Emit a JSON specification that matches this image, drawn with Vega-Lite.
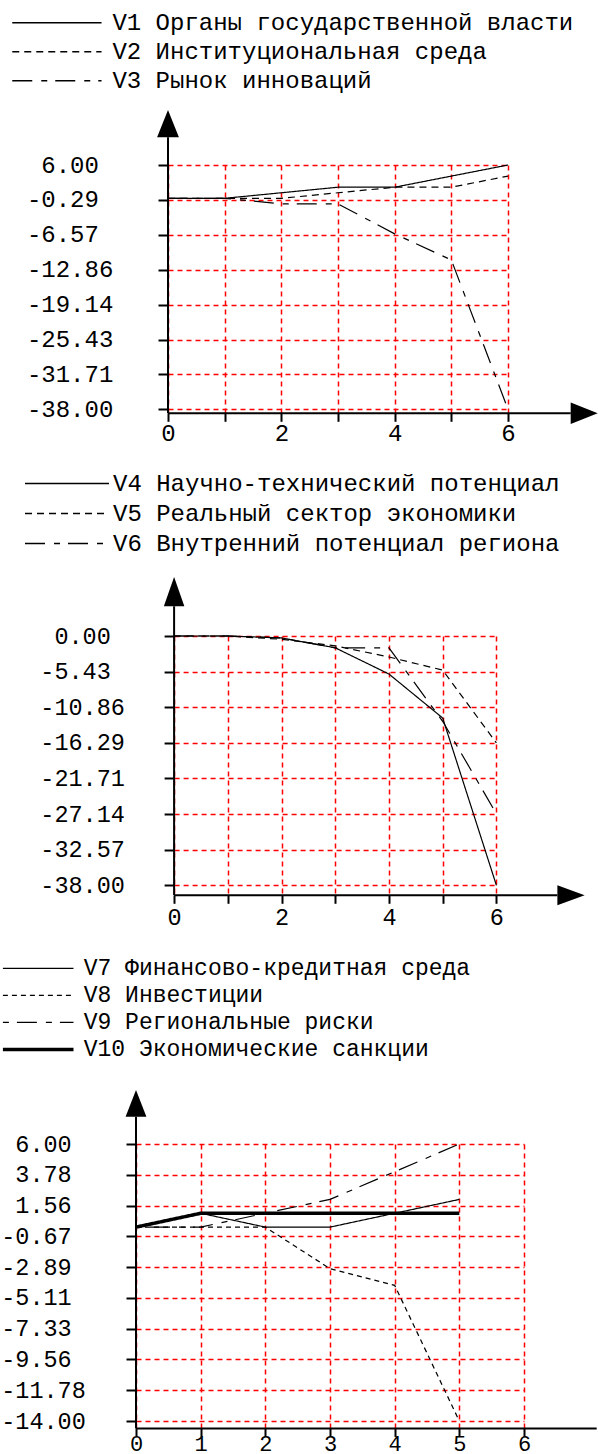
{
  "$schema": "https://vega.github.io/schema/vega-lite/v6.json",
  "usermeta": {"embedOptions": {"actions": false}},
  "background": "white",
  "padding": {"left": 0, "top": 0, "right": 0, "bottom": -6},
  "spacing": 0,
  "resolve": {
    "scale": {"strokeDash": "independent", "strokeWidth": "independent"},
    "legend": {"strokeDash": "independent", "strokeWidth": "independent"}
  },
  "config": {
    "view": {"stroke": null},
    "font": "Liberation Mono",
    "axis": {
      "labelFont": "Liberation Mono", "labelColor": "black", "domain": false,
      "tickColor": "black", "tickWidth": 2, "grid": true, "gridColor": "#ff0000",
      "gridDash": [5, 4], "gridWidth": 1.5, "gridOpacity": 1, "labelFlush": false,
      "labelOverlap": false, "titleFontSize": 1, "titleColor": "white", "titleAngle": 0,
      "titleAlign": "left", "tickCount": 100
    },
    "legend": {"labelFont": "Liberation Mono", "labelColor": "black"}
  },
  "vconcat": [
    {
      "width": 372, "height": 248.3,
      "layer": [
        {
          "data": {"values": [
            {"s": "V1 Органы государственной власти", "x": 0, "y": 0},
            {"s": "V1 Органы государственной власти", "x": 1, "y": 0},
            {"s": "V1 Органы государственной власти", "x": 2, "y": 1},
            {"s": "V1 Органы государственной власти", "x": 3, "y": 2},
            {"s": "V1 Органы государственной власти", "x": 4, "y": 2},
            {"s": "V1 Органы государственной власти", "x": 5, "y": 4},
            {"s": "V1 Органы государственной власти", "x": 6, "y": 6},
            {"s": "V2 Институциональная среда", "x": 0, "y": 0},
            {"s": "V2 Институциональная среда", "x": 1, "y": 0},
            {"s": "V2 Институциональная среда", "x": 2, "y": 0},
            {"s": "V2 Институциональная среда", "x": 3, "y": 1},
            {"s": "V2 Институциональная среда", "x": 4, "y": 2},
            {"s": "V2 Институциональная среда", "x": 5, "y": 2},
            {"s": "V2 Институциональная среда", "x": 6, "y": 4},
            {"s": "V3 Рынок инноваций", "x": 0, "y": 0},
            {"s": "V3 Рынок инноваций", "x": 1, "y": 0},
            {"s": "V3 Рынок инноваций", "x": 2, "y": -1},
            {"s": "V3 Рынок инноваций", "x": 3, "y": -1},
            {"s": "V3 Рынок инноваций", "x": 4, "y": -6.4},
            {"s": "V3 Рынок инноваций", "x": 5, "y": -11.1},
            {"s": "V3 Рынок инноваций", "x": 6, "y": -38}
          ]},
          "mark": {"type": "line", "color": "black", "strokeWidth": 1.2},
          "encoding": {
            "x": {"field": "x", "type": "quantitative",
              "scale": {"domain": [0, 6], "range": [32, 372], "nice": false, "zero": false},
              "axis": {"values": [0, 1, 2, 3, 4, 5, 6], "format": "d", "tickCount": 100, "labelOverlap": false,
                "labelExpr": "datum.value % 2 == 0 ? datum.label : ''",
                "labelBaseline": "middle", "labelPadding": 11.7, "tickSize": 8,
                "labelFontSize": 24, "labelAngle": 0,
                "title": " ", "titleX": 0, "titleY": 41.7, "titleBaseline": "bottom"}},
            "y": {"field": "y", "type": "quantitative",
              "scale": {"domain": [-38.72, 6], "nice": false, "zero": false},
              "axis": {"offset": -32, "values": [6, -0.2857, -6.5714, -12.8571, -19.1429, -25.4286, -31.7143, -38], "tickCount": 100, "labelOverlap": false,
                "labelExpr": "(datum.value >= 0 ? '' : '-') + format(abs(datum.value), '.2f')",
                "labelAlign": "left", "labelBaseline": "middle",
                "labelPadding": {"condition": {"test": "datum.value >= 0", "value": 117.2}, "value": 131.6},
                "tickSize": 10, "labelFontSize": 24,
                "title": " ", "titleX": -167.3, "titleY": -165, "titleBaseline": "top"}},
            "strokeDash": {"field": "s", "type": "nominal",
              "scale": {"domain": ["V1 Органы государственной власти", "V2 Институциональная среда", "V3 Рынок инноваций"],
                "range": [[1, 0], [7, 5], [20, 9, 6, 8]]},
              "legend": {"orient": "none", "legendX": -124.6, "legendY": -156.5, "title": null,
                "symbolType": "stroke", "symbolSize": 7974, "symbolStrokeColor": "black",
                "symbolStrokeWidth": 1.5, "labelFontSize": 24, "labelLimit": 1000,
                "labelOffset": 10, "clipHeight": 28.7, "rowPadding": 0, "padding": 0,
                "labelBaseline": "middle"}}
          }
        },
        {
          "data": {"values": [{}]},
          "mark": {"type": "rule", "color": "black", "strokeWidth": 2},
          "encoding": {"x": {"datum": 0}, "y": {"datum": -38.72}, "y2": {"datum": 10.99}}
        },
        {
          "data": {"values": [{}]},
          "mark": {"type": "rule", "color": "black", "strokeWidth": 2},
          "encoding": {"x": {"datum": 0}, "x2": {"datum": 7.107}, "y": {"datum": -38.72}}
        },
        {
          "data": {"values": [{}]},
          "mark": {"type": "point", "shape": "M0,-1L0.8,1L-0.8,1Z", "filled": true, "color": "black", "opacity": 1, "size": 745},
          "encoding": {"x": {"datum": 0}, "y": {"datum": 13.44}}
        },
        {
          "data": {"values": [{}]},
          "mark": {"type": "point", "shape": "M1,0L-1,-0.8L-1,0.8Z", "filled": true, "color": "black", "opacity": 1, "size": 729},
          "encoding": {"x": {"datum": 7.345}, "y": {"datum": -38.72}}
        }
      ]
    },
    {
      "width": 360.4, "height": 259.3,
      "layer": [
        {
          "data": {"values": [
            {"s": "V4 Научно-технический потенциал", "x": 0, "y": 0},
            {"s": "V4 Научно-технический потенциал", "x": 1, "y": 0},
            {"s": "V4 Научно-технический потенциал", "x": 2, "y": -0.3},
            {"s": "V4 Научно-технический потенциал", "x": 3, "y": -1.8},
            {"s": "V4 Научно-технический потенциал", "x": 4, "y": -5.8},
            {"s": "V4 Научно-технический потенциал", "x": 5, "y": -12.5},
            {"s": "V4 Научно-технический потенциал", "x": 6, "y": -38},
            {"s": "V5 Реальный сектор экономики", "x": 0, "y": 0},
            {"s": "V5 Реальный сектор экономики", "x": 1, "y": 0},
            {"s": "V5 Реальный сектор экономики", "x": 2, "y": -0.5},
            {"s": "V5 Реальный сектор экономики", "x": 3, "y": -1.5},
            {"s": "V5 Реальный сектор экономики", "x": 4, "y": -3.2},
            {"s": "V5 Реальный сектор экономики", "x": 5, "y": -5.2},
            {"s": "V5 Реальный сектор экономики", "x": 6, "y": -16.3},
            {"s": "V6 Внутренний потенциал региона", "x": 0, "y": 0},
            {"s": "V6 Внутренний потенциал региона", "x": 1, "y": 0},
            {"s": "V6 Внутренний потенциал региона", "x": 2, "y": -0.3},
            {"s": "V6 Внутренний потенциал региона", "x": 3, "y": -1.8},
            {"s": "V6 Внутренний потенциал региона", "x": 4, "y": -1.8},
            {"s": "V6 Внутренний потенциал региона", "x": 5, "y": -13},
            {"s": "V6 Внутренний потенциал региона", "x": 6, "y": -27.1}
          ]},
          "mark": {"type": "line", "color": "black", "strokeWidth": 1.2},
          "encoding": {
            "x": {"field": "x", "type": "quantitative",
              "scale": {"domain": [0, 6], "range": [38.1, 360.4], "nice": false, "zero": false},
              "axis": {"values": [0, 1, 2, 3, 4, 5, 6], "format": "d", "tickCount": 100, "labelOverlap": false,
                "labelExpr": "datum.value % 2 == 0 ? datum.label : ''",
                "labelBaseline": "middle", "labelPadding": 13.7, "tickSize": 8,
                "labelFontSize": 23.5, "labelAngle": 0,
                "title": " ", "titleX": 0, "titleY": 40, "titleBaseline": "bottom"}},
            "y": {"field": "y", "type": "quantitative",
              "scale": {"domain": [-39.52, 0], "nice": false, "zero": false},
              "axis": {"offset": -38.1, "values": [0, -5.4286, -10.8571, -16.2857, -21.7143, -27.1429, -32.5714, -38], "tickCount": 100, "labelOverlap": false,
                "labelExpr": "(datum.value >= 0 ? '' : '-') + format(abs(datum.value), '.2f')",
                "labelAlign": "left", "labelBaseline": "middle",
                "labelPadding": {"condition": {"test": "datum.value >= 0", "value": 110.2}, "value": 124.3},
                "tickSize": 10, "labelFontSize": 23.5,
                "title": " ", "titleX": -173.4, "titleY": -180.7, "titleBaseline": "top"}},
            "strokeDash": {"field": "s", "type": "nominal",
              "scale": {"domain": ["V4 Научно-технический потенциал", "V5 Реальный сектор экономики", "V6 Внутренний потенциал региона"],
                "range": [[1, 0], [7, 5], [20, 9, 6, 8]]},
              "legend": {"orient": "none", "legendX": -112, "legendY": -167.4, "title": null,
                "symbolType": "stroke", "symbolSize": 7056, "symbolStrokeColor": "black",
                "symbolStrokeWidth": 1.5, "labelFontSize": 24, "labelLimit": 1000,
                "labelOffset": 3, "clipHeight": 30, "rowPadding": 0, "padding": 0,
                "labelBaseline": "middle"}}
          }
        },
        {
          "data": {"values": [{}]},
          "mark": {"type": "rule", "color": "black", "strokeWidth": 2},
          "encoding": {"x": {"datum": 0}, "y": {"datum": -39.52}, "y2": {"datum": 4.527}}
        },
        {
          "data": {"values": [{}]},
          "mark": {"type": "rule", "color": "black", "strokeWidth": 2},
          "encoding": {"x": {"datum": 0}, "x2": {"datum": 7.135}, "y": {"datum": -39.52}}
        },
        {
          "data": {"values": [{}]},
          "mark": {"type": "point", "shape": "M0,-1L0.7,1L-0.7,1Z", "filled": true, "color": "black", "opacity": 1, "size": 858},
          "encoding": {"x": {"datum": 0}, "y": {"datum": 6.767}}
        },
        {
          "data": {"values": [{}]},
          "mark": {"type": "point", "shape": "M1,0L-1,-0.73L-1,0.73Z", "filled": true, "color": "black", "opacity": 1, "size": 745},
          "encoding": {"x": {"datum": 7.389}, "y": {"datum": -39.52}}
        }
      ]
    },
    {
      "width": 388, "height": 284.4,
      "layer": [
        {
          "data": {"values": [
            {"s": "V7 Финансово-кредитная среда", "x": 0, "y": 0},
            {"s": "V7 Финансово-кредитная среда", "x": 1, "y": 1},
            {"s": "V7 Финансово-кредитная среда", "x": 2, "y": 0},
            {"s": "V7 Финансово-кредитная среда", "x": 3, "y": 0},
            {"s": "V7 Финансово-кредитная среда", "x": 4, "y": 1},
            {"s": "V7 Финансово-кредитная среда", "x": 5, "y": 2},
            {"s": "V8 Инвестиции", "x": 0, "y": 0},
            {"s": "V8 Инвестиции", "x": 1, "y": 0},
            {"s": "V8 Инвестиции", "x": 2, "y": 0},
            {"s": "V8 Инвестиции", "x": 3, "y": -3},
            {"s": "V8 Инвестиции", "x": 4, "y": -4.2},
            {"s": "V8 Инвестиции", "x": 5, "y": -14},
            {"s": "V9 Региональные риски", "x": 0, "y": 0},
            {"s": "V9 Региональные риски", "x": 1, "y": 0},
            {"s": "V9 Региональные риски", "x": 2, "y": 1},
            {"s": "V9 Региональные риски", "x": 3, "y": 2},
            {"s": "V9 Региональные риски", "x": 4, "y": 4},
            {"s": "V9 Региональные риски", "x": 5, "y": 6},
            {"s": "V10 Экономические санкции", "x": 0, "y": 0},
            {"s": "V10 Экономические санкции", "x": 1, "y": 1},
            {"s": "V10 Экономические санкции", "x": 2, "y": 1},
            {"s": "V10 Экономические санкции", "x": 3, "y": 1},
            {"s": "V10 Экономические санкции", "x": 4, "y": 1},
            {"s": "V10 Экономические санкции", "x": 5, "y": 1}
          ]},
          "mark": {"type": "line", "color": "black"},
          "encoding": {
            "x": {"field": "x", "type": "quantitative",
              "scale": {"domain": [0, 6], "nice": false, "zero": false},
              "axis": {"values": [0, 1, 2, 3, 4, 5, 6], "format": "d", "tickCount": 100, "labelOverlap": false,
                "labelBaseline": "middle", "labelPadding": 7.5, "tickSize": 8,
                "labelFontSize": 22, "labelAngle": 0,
                "title": " ", "titleX": 0, "titleY": 33.3, "titleBaseline": "bottom"}},
            "y": {"field": "y", "type": "quantitative",
              "scale": {"domain": [-14.53, 6], "nice": false, "zero": false},
              "axis": {"values": [6, 3.7778, 1.5556, -0.6667, -2.8889, -5.1111, -7.3333, -9.5556, -11.7778, -14], "tickCount": 100, "labelOverlap": false,
                "labelExpr": "(datum.value >= 0 ? '' : '-') + format(abs(datum.value), '.2f')",
                "labelAlign": "left", "labelBaseline": "middle",
                "labelPadding": {"condition": {"test": "datum.value >= 0", "value": 111.2}, "value": 125.3},
                "tickSize": 10, "labelFontSize": 23.5,
                "title": " ", "titleX": -135.3, "titleY": -207.3, "titleBaseline": "top"}},
            "strokeDash": {"field": "s", "type": "nominal",
              "scale": {"domain": ["V7 Финансово-кредитная среда", "V8 Инвестиции", "V9 Региональные риски", "V10 Экономические санкции"],
                "range": [[1, 0], [5, 4], [6, 8, 20, 9], [1, 0]]},
              "legend": {"orient": "none", "legendX": -135.3, "legendY": -189, "title": null,
                "symbolType": "stroke", "symbolSize": 4984, "symbolStrokeColor": "black",
                "labelFontSize": 23, "labelLimit": 1000,
                "labelOffset": 8, "clipHeight": 26.8, "rowPadding": 0, "padding": 0,
                "labelBaseline": "middle"}},
            "strokeWidth": {"field": "s", "type": "nominal",
              "scale": {"type": "ordinal", "domain": ["V7 Финансово-кредитная среда", "V8 Инвестиции", "V9 Региональные риски", "V10 Экономические санкции"],
                "range": [1.2, 1.2, 1.2, 3.5]},
              "legend": {"orient": "none", "legendX": -135.3, "legendY": -189, "title": null,
                "symbolType": "stroke", "symbolSize": 4984, "symbolStrokeColor": "black",
                "labelFontSize": 23, "labelLimit": 1000,
                "labelOffset": 8, "clipHeight": 26.8, "rowPadding": 0, "padding": 0,
                "labelBaseline": "middle"}}
          }
        },
        {
          "data": {"values": [{}]},
          "mark": {"type": "rule", "color": "black", "strokeWidth": 2},
          "encoding": {"x": {"datum": 0}, "y": {"datum": -14.53}, "y2": {"datum": 7.97}}
        },
        {
          "data": {"values": [{}]},
          "mark": {"type": "rule", "color": "black", "strokeWidth": 2},
          "encoding": {"x": {"datum": 0}, "x2": {"datum": 7.124}, "y": {"datum": -14.53}}
        },
        {
          "data": {"values": [{}]},
          "mark": {"type": "point", "shape": "M0,-1L0.78,1L-0.78,1Z", "filled": true, "color": "black", "opacity": 1, "size": 713},
          "encoding": {"x": {"datum": 0}, "y": {"datum": 8.93}}
        }
      ]
    }
  ]
}
